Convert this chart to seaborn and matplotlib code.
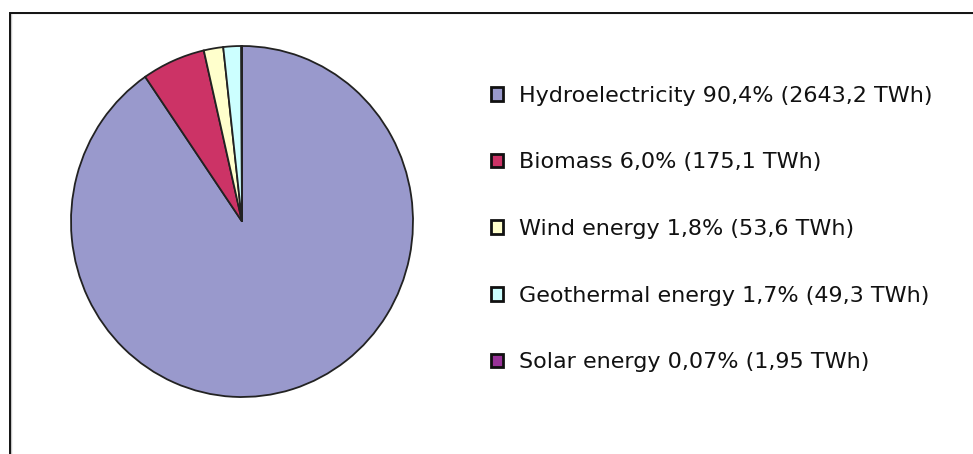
import matplotlib
matplotlib.use("Agg")
import matplotlib.pyplot as plt
from matplotlib.patches import Patch, Rectangle
import seaborn as sns

sources = ["Hydroelectricity", "Biomass", "Wind energy", "Geothermal energy", "Solar energy"]
twh = [2643.2, 175.1, 53.6, 49.3, 1.95]
labels = ["Hydroelectricity 90,4% (2643,2 TWh)", "Biomass 6,0% (175,1 TWh)",
          "Wind energy 1,8% (53,6 TWh)", "Geothermal energy 1,7% (49,3 TWh)",
          "Solar energy 0,07% (1,95 TWh)"]
colors = ["#9999CC", "#CC3366", "#FFFFCC", "#CCFFFF", "#993399"]

sns.set_theme(style="white")
plt.rcParams['font.family'] = ['DejaVu Sans']

W, H = 973, 454
fig = plt.figure(figsize=(W / 100, H / 100), dpi=100)
fig.patch.set_facecolor("white")

# outer frame (only top and left visible)
fig.patches.append(Rectangle((10.5 / W, -0.1), 1.2, (H - 13.5) / H + 0.1, transform=fig.transFigure,
                             fill=False, edgecolor="#c8c8c8", linewidth=1.0, zorder=0))
fig.patches.append(Rectangle((9.5 / W, -0.1), 1.2, (H - 12.5) / H + 0.1, transform=fig.transFigure,
                             fill=False, edgecolor="#111111", linewidth=1.4, zorder=1))

ax = fig.add_axes([71 / W, 57 / H, 342 / W, 351 / H])
palette = sns.color_palette(colors)
ax.pie(twh, colors=palette, startangle=90, counterclock=False, radius=1.0,
       wedgeprops=dict(edgecolor="#222222", linewidth=1.3))
ax.set_xlim(-1, 1)
ax.set_ylim(-1, 1)
ax.set_aspect("auto")
ax.axis("off")

handles = [Patch(facecolor=c, edgecolor="#111111", linewidth=2.0) for c in palette]
fig.legend(handles, labels, loc="center left", bbox_to_anchor=(491 / W, (H - 229) / H),
           frameon=False, fontsize=16, handlelength=0.55, handleheight=0.55,
           handletextpad=0.72, labelspacing=2.1, borderpad=0, borderaxespad=0,
           labelcolor="#111111")

fig.savefig("out.png", dpi=100)
